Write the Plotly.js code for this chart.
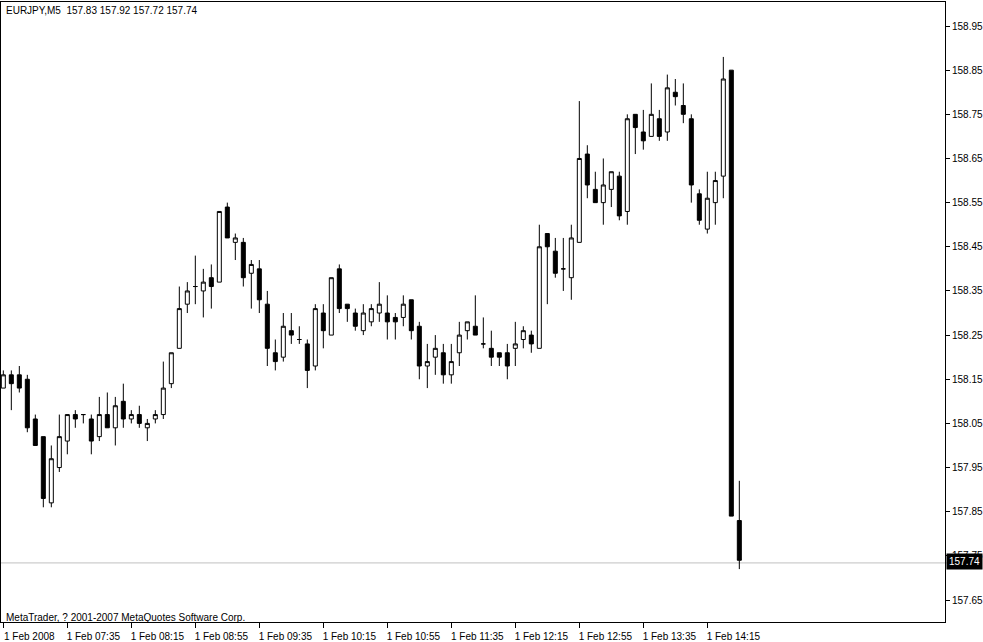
<!DOCTYPE html>
<html><head><meta charset="utf-8">
<script src="https://cdn.plot.ly/plotly-3.0.1.min.js"></script>
<style>html,body{margin:0;padding:0;background:#fff}#chart{width:983px;height:642px}</style>
</head><body><div id="chart"></div>
<script>
const symbol = 'EURJPY,M5';
const firstBarTime = '06:55';
const barMinutes = 5;

const openP = [158.13,158.16,158.16,158.15,158.06,158.02,157.87,157.95,158.01,158.07,
158.07,158.06,158.02,158.07,158.04,158.10,158.06,158.07,158.04,158.06,
158.07,158.14,158.22,158.32,158.36,158.35,158.38,158.37,158.54,158.46,
158.46,158.39,158.40,158.32,158.21,158.20,158.26,158.24,158.23,158.18,
158.30,158.25,158.40,158.32,158.30,158.26,158.28,158.30,158.30,158.29,
158.29,158.33,158.27,158.18,158.20,158.21,158.16,158.21,158.26,158.27,
158.23,158.22,158.21,158.21,158.22,158.24,158.25,158.22,158.48,158.44,
158.40,158.38,158.46,158.66,158.58,158.55,158.58,158.61,158.53,158.75,
158.71,158.70,158.74,158.71,158.80,158.77,158.74,158.57,158.49,158.55,
158.61,158.85,157.83];
const highP = [158.17,158.17,158.18,158.16,158.07,158.02,158.00,158.07,158.07,158.08,
158.07,158.07,158.11,158.12,158.11,158.14,158.08,158.09,158.06,158.08,
158.19,158.21,158.36,158.37,158.43,158.40,158.41,158.53,158.55,158.48,
158.47,158.42,158.42,158.35,158.24,158.30,158.30,158.27,158.24,158.32,
158.32,158.38,158.41,158.32,158.31,158.32,158.32,158.37,158.34,158.30,
158.34,158.33,158.28,158.23,158.25,158.23,158.23,158.28,158.28,158.34,
158.29,158.26,158.21,158.23,158.28,158.27,158.26,158.50,158.48,158.47,
158.47,158.50,158.78,158.68,158.62,158.65,158.62,158.62,158.75,158.75,
158.76,158.82,158.76,158.84,158.83,158.82,158.75,158.58,158.62,158.62,
158.88,158.85,157.92];
const lowP = [158.13,158.08,158.12,158.03,158.00,157.86,157.86,157.94,157.98,158.04,
158.05,157.98,158.01,158.04,158.00,158.04,158.05,158.04,158.01,158.05,
158.06,158.13,158.22,158.30,158.32,158.29,158.31,158.37,158.47,158.42,
158.36,158.31,158.30,158.18,158.17,158.19,158.23,158.23,158.13,158.17,
158.22,158.25,158.30,158.28,158.26,158.25,158.27,158.28,158.24,158.24,
158.27,158.24,158.15,158.13,158.16,158.14,158.14,158.18,158.24,158.25,
158.22,158.18,158.18,158.15,158.18,158.22,158.21,158.22,158.32,158.38,
158.35,158.33,158.46,158.56,158.55,158.50,158.54,158.51,158.50,158.66,
158.67,158.70,158.69,158.69,158.77,158.73,158.55,158.50,158.48,158.50,
158.56,157.84,157.72];
const closeP = [158.16,158.14,158.13,158.04,158.00,157.88,157.97,158.02,158.07,158.06,
158.07,158.01,158.07,158.04,158.09,158.06,158.07,158.05,158.05,158.07,
158.13,158.21,158.31,158.35,158.36,158.37,158.36,158.53,158.47,158.47,
158.38,158.41,158.33,158.22,158.19,158.27,158.25,158.24,158.17,158.31,
158.26,158.38,158.31,158.31,158.27,158.30,158.31,158.32,158.28,158.28,
158.32,158.26,158.18,158.19,158.22,158.16,158.19,158.25,158.28,158.25,
158.23,158.20,158.20,158.18,158.23,158.26,158.23,158.45,158.45,158.39,
158.40,158.47,158.65,158.59,158.55,158.59,158.62,158.52,158.74,158.72,
158.69,158.75,158.70,158.81,158.79,158.75,158.59,158.51,158.56,158.60,
158.83,157.84,157.74];

const tickTimes = ['06:55','07:35','08:15','08:55','09:35','10:15','10:55','11:35','12:15','12:55','13:35','14:15'];
const tickText = ['1 Feb 2008','1 Feb 07:35','1 Feb 08:15','1 Feb 08:55','1 Feb 09:35','1 Feb 10:15','1 Feb 10:55','1 Feb 11:35','1 Feb 12:15','1 Feb 12:55','1 Feb 13:35','1 Feb 14:15'];
const priceTicks = [157.65,157.75,157.85,157.95,158.05,158.15,158.25,158.35,158.45,158.55,158.65,158.75,158.85,158.95];
const copyright = 'MetaTrader, ? 2001-2007 MetaQuotes Software Corp.';

function toMin(t){const p=t.split(':');return (+p[0])*60+(+p[1]);}
function toHM(m){const h=Math.floor(m/60),mm=m%60;return String(h).padStart(2,'0')+':'+String(mm).padStart(2,'0');}
const times = openP.map((_,i)=>toHM(toMin(firstBarTime)+i*barMinutes));
const xIdx = times.map((_,i)=>i);
const tickVals = tickTimes.map(t=>times.indexOf(t));

const n = closeP.length;
const last = closeP[n-1];
const headerText = symbol + '\u00a0\u00a0' + [openP[n-1],highP[n-1],lowP[n-1],closeP[n-1]].map(v=>v.toFixed(2)).join(' ');

const FONT = {family:'Liberation Sans, Arial, sans-serif', size:10, color:'#000'};

const trace = {
  type:'candlestick', x:xIdx, open:openP, high:highP, low:lowP, close:closeP,
  increasing:{line:{color:'#000',width:1}, fillcolor:'#fff'},
  decreasing:{line:{color:'#000',width:1}, fillcolor:'#000'},
  whiskerwidth:0, showlegend:false, hoverinfo:'skip'
};

const layout = {
  width:983, height:642,
  margin:{l:1, r:38, t:2, b:20, pad:0},
  paper_bgcolor:'#fff', plot_bgcolor:'#fff',
  font:FONT,
  boxgap:0.5, boxgroupgap:0,
  showlegend:false,
  xaxis:{
    range:[-0.29, 117.71], showgrid:false, zeroline:false,
    showline:true, mirror:true, linecolor:'#000', linewidth:1,
    ticks:'outside', ticklen:5, tickcolor:'#000', tickwidth:1,
    tickvals:tickVals, ticktext:tickText, ticklabelshift:26,
    tickfont:FONT, rangeslider:{visible:false}, fixedrange:true
  },
  yaxis:{
    side:'right', range:[157.6002, 159.0044], showgrid:false, zeroline:false,
    showline:true, mirror:true, linecolor:'#000', linewidth:1,
    ticks:'outside', ticklen:4, tickcolor:'#000', tickwidth:1,
    tickvals:priceTicks, tickformat:'.2f', tickfont:FONT, fixedrange:true
  },
  shapes:[
    {type:'line', xref:'paper', x0:0, x1:1.005, yref:'y', y0:last-0.006, y1:last-0.006, line:{color:'#c0c0c0', width:1}, layer:'below'}
  ],
  annotations:[
    {xref:'paper', yref:'paper', x:0, y:1, xanchor:'left', yanchor:'top', xshift:3, yshift:-1, text:headerText, showarrow:false, font:FONT},
    {xref:'paper', yref:'paper', x:0, y:0, xanchor:'left', yanchor:'bottom', xshift:3, yshift:-3, text:copyright, showarrow:false, font:FONT},
    {xref:'paper', yref:'y', x:1, y:last, xanchor:'left', yanchor:'middle', xshift:1, yshift:-1, text:last.toFixed(2), showarrow:false, bgcolor:'#000', borderpad:2, font:{family:FONT.family, size:10, color:'#fff'}}
  ]
};

Plotly.newPlot('chart', [trace], layout, {displayModeBar:false, staticPlot:true});
</script></body></html>
